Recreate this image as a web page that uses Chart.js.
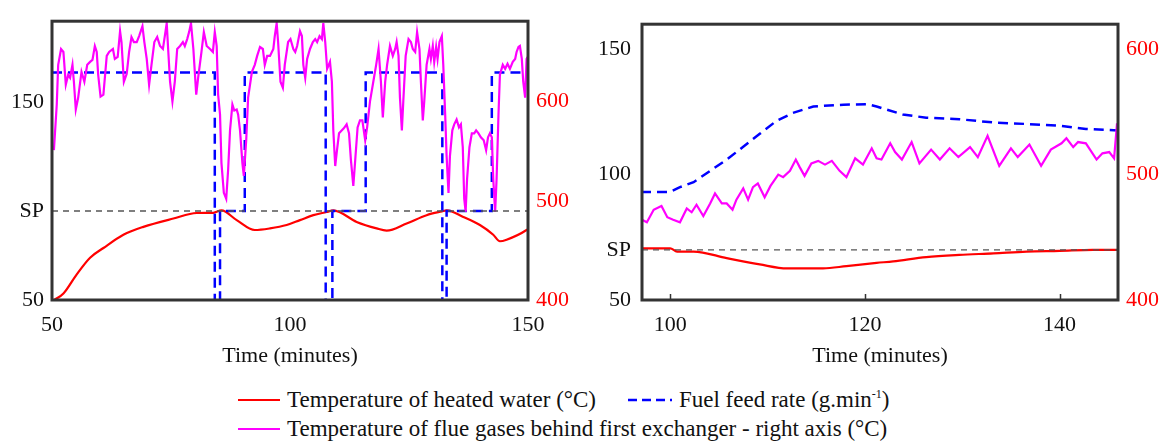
<!DOCTYPE html>
<html>
<head>
<meta charset="utf-8">
<script src="https://cdn.jsdelivr.net/npm/chart.js@4.4.1/dist/chart.umd.min.js"></script>
<style>
    body { margin: 0; background: #fff; width: 1162px; height: 442px; position: relative; overflow: hidden; font-family: 'Liberation Serif', 'Times New Roman', serif; }
    #leftBox { position: absolute; left: 0; top: 0; width: 580px; height: 370px; }
    #rightBox { position: absolute; left: 580px; top: 0; width: 582px; height: 370px; }
    .legendRow { position: absolute; left: 238px; height: 28px; display: flex; align-items: center; font-size: 23px; color: #111; white-space: nowrap; }
    .legendRow svg { margin-right: 7px; }
    sup { font-size: 12px; vertical-align: 9px; line-height: 0; }
</style>
</head>
<body>
<div id="leftBox"><canvas id="leftChart"></canvas></div>
<div id="rightBox"><canvas id="rightChart"></canvas></div>

<div class="legendRow" style="top: 386px;">
    <svg width="42" height="6"><line x1="0" y1="3" x2="42" y2="3" stroke="#ff0000" stroke-width="2.2"/></svg>
    <span>Temperature of heated water (°C)</span>
    <svg width="44" height="6" style="margin-left: 32px;"><line x1="0" y1="3" x2="44" y2="3" stroke="#0000ff" stroke-width="2.5" stroke-dasharray="9,5"/></svg>
    <span>Fuel feed rate (g.min<sup>-1</sup>)</span>
</div>
<div class="legendRow" style="top: 415px;">
    <svg width="42" height="6"><line x1="0" y1="3" x2="42" y2="3" stroke="#ff00ff" stroke-width="2.2"/></svg>
    <span>Temperature of flue gases behind first exchanger - right axis (°C)</span>
</div>

<script>
// ---- left panel data (time in minutes) ----
const leftXTicks = [50, 100, 150];
const leftYTicks = [50, 95, 150];
const leftY2Ticks = [400, 500, 600];
const leftSP = 95;

const leftWaterTime = [50.5, 52.4, 55.2, 58, 60.8, 65, 69.2, 75.5, 80.4, 83.9, 85.6, 88.8, 92.6, 95.8, 99.3, 102.1, 104.9, 107.7, 109.1, 114, 118.2, 120.3, 124.5, 128.7, 131.9, 132.9, 136.4, 139.9, 142.7, 144.1, 145.5, 149.7, 150];
const leftWaterTemp = [50, 53.3, 63, 71.4, 76.3, 83, 87, 91.2, 94, 94.1, 95.3, 90.4, 85.4, 86.2, 87.9, 90.4, 92.9, 94.5, 95.3, 89.5, 86.2, 85.1, 88.7, 92.9, 94.8, 95.3, 92, 87.9, 83, 79.7, 80.5, 85.4, 86];

const leftFeedTime = [50, 84.2, 84.2, 85.3, 85.3, 90.5, 90.5, 107.5, 107.5, 108.9, 108.9, 115.9, 115.9, 132, 132, 132.9, 132.9, 142.4, 142.4, 150];
const leftFeedRate = [165, 165, 0, 0, 95, 95, 165, 165, 0, 0, 95, 95, 165, 165, 0, 0, 95, 95, 165, 165];

const leftFlueTime = [50.4, 51, 51.3, 51.9, 52.4, 52.9, 53.4, 53.8, 54.3, 54.6, 55, 55.5, 56.2, 56.8, 57.4, 58, 58.5, 59, 59.4, 59.7,
    60.2, 60.8, 61.5, 62, 62.8, 63.2, 63.8, 64.3, 64.6, 65.1, 65.7, 66.2, 66.7, 67.2, 67.8, 68.3, 69, 69.4, 69.9,
    70.4, 70.9, 71.5, 72.1, 72.7, 73.3, 73.7, 74.1, 74.4, 74.8, 75.3, 75.8, 76.3, 76.9, 77.5, 77.9, 78.4, 78.8, 79.2, 79.7,
    80.3, 80.7, 81.4, 81.9, 82.5, 83.2, 83.8, 84.2, 84.6, 84.9, 85.3, 85.6, 86.1, 86.6, 87, 87.4, 87.9, 88.3, 88.8, 89.1, 89.5,
    90, 90.3, 90.8, 91.2, 92, 92.6, 93.1, 93.7, 94.3, 94.7, 95.2, 95.8, 96.5, 96.8, 97.2, 97.5, 98, 98.5, 98.9, 99.6,
    100.1, 100.7, 101.1, 101.5, 102.1, 102.5, 102.8, 103.2, 103.6, 104.2, 104.8, 105.3, 105.7, 106.2, 106.7, 107, 107.4, 107.8, 108.4, 108.8, 109.1, 109.5, 109.8,
    110.3, 110.9, 111.3, 111.9, 112.4, 112.8, 113.3, 113.7, 114.2, 114.7, 115.2, 115.8, 116.2, 116.8, 117.5, 118.1, 118.6, 119.1, 119.5,
    120, 120.4, 121, 121.6, 122.1, 122.4, 122.8, 123.1, 123.5, 123.8, 124.3, 124.9, 125.4, 125.8, 126.3, 126.7, 127.2, 127.5, 127.9, 128.2, 128.7, 129.3, 129.6,
    130, 130.3, 130.7, 131, 131.4, 131.9, 132.2, 132.6, 132.9, 133.3, 133.6, 134.1, 134.5, 135, 135.5, 135.9, 136.3, 136.6, 136.9, 137.2, 137.7, 138.2, 138.7, 139.1, 139.6,
    140.1, 140.7, 141.2, 141.6, 142, 142.4, 142.7, 143.1, 143.4, 143.8, 144.1, 144.7, 145.2, 145.7, 146.2, 146.8, 147.3, 147.6, 148, 148.3, 148.7, 149, 149.4, 149.7, 149.9];
const leftFlueTemp = [551, 597, 637, 653, 650, 617, 627, 624, 637, 620, 592, 604, 630, 620, 637, 640, 642, 656, 650, 627,
    605, 607, 646, 650, 653, 643, 645, 671, 660, 620, 628, 650, 665, 660, 660, 666, 676, 660, 643,
    617, 637, 660, 665, 656, 653, 666, 679, 653, 620, 600, 620, 653, 656, 660, 656, 663, 670, 679, 653,
    607, 624, 650, 670, 656, 653, 650, 670, 656, 607, 587, 538, 508, 502, 531, 571, 597, 591, 592, 587, 571,
    538, 525, 561, 604, 630, 637, 646, 655, 653, 637, 646, 646, 653, 666, 679, 660, 620, 614, 637, 660,
    663, 653, 650, 656, 671, 666, 637, 624, 643, 653, 660, 663, 660, 666, 663, 679, 660, 633, 640, 620, 571, 535, 548,
    568, 571, 573, 577, 568, 541, 515, 541, 574, 581, 581, 561, 574, 600, 620, 637, 653, 620, 584,
    620, 637, 656, 646, 653, 660, 646, 604, 571, 600, 646, 663, 660, 653, 650, 670, 653, 620, 581, 600, 637, 653, 643,
    656, 640, 655, 643, 660, 666, 637, 587, 545, 508, 545, 571, 577, 582, 574, 577, 554, 502, 489, 522, 554, 568, 568, 571, 568,
    564, 561, 551, 564, 568, 564, 522, 489, 522, 587, 627, 637, 633, 638, 633, 640, 643, 650, 655, 656, 643, 620, 604, 643, 645];

// ---- right panel data ----
const rightXTicks = [100, 120, 140];
const rightYTicks = [50, 70, 100, 150];
const rightY2Ticks = [400, 500, 600];
const rightSP = 70;

const rightWaterTime = [97, 100, 100.7, 102.4, 105.8, 109.2, 112, 115.7, 118.1, 121.2, 122.9, 126.3, 129.7, 133.2, 136.6, 140, 143.4, 146];
const rightWaterTemp = [70.6, 70.6, 69.3, 69.3, 66.7, 64.2, 62.6, 62.6, 63.5, 64.8, 65.4, 67.1, 68, 68.6, 69.3, 69.6, 70, 70];

const rightFeedTime = [97, 100, 101, 102.4, 104.1, 105.8, 107.5, 109.2, 110.9, 112.6, 114.7, 117.8, 120.2, 121.2, 122.2, 123.9, 126.3, 129.7, 133.2, 136.6, 140, 142.7, 146];
const rightFeedRate = [93.1, 93.1, 95, 97, 101.5, 106, 111.1, 116.3, 121.4, 124.6, 127.2, 127.9, 128.1, 127.2, 126, 124, 122.7, 122.1, 120.8, 120.2, 119.5, 118.2, 117.6];

const rightFlueTime = [97.1, 97.6, 98.3, 99.1, 99.7, 100.3, 101, 101.7, 102.2, 102.7, 103.4, 104.1, 104.6, 105.3, 105.8, 106.4, 106.8, 107.5, 108, 108.5, 109, 109.7,
    110.3, 111.1, 111.6, 112.3, 112.9, 113.3, 113.8, 114.5, 115.2, 115.9, 116.6, 117.4, 118.1, 119, 119.8, 120.7, 121.2, 121.7, 122.6, 123.1, 123.8, 124.8, 125.6, 126.8, 127.7, 128.7, 129.6,
    130.8, 131.6, 132.6, 133.8, 135, 135.7, 136.9, 138.1, 139.1, 140.2, 140.7, 141.4, 141.9, 142.7, 143.8, 144.4, 145.1, 145.6, 145.9];
const rightFlueTemp = [464, 462, 472, 475, 466, 464, 462, 473, 470, 476, 467, 477, 485, 477, 477, 472, 480, 489, 480, 490, 493, 482,
    491, 500, 498, 503, 512, 506, 499, 509, 511, 508, 511, 503, 498, 513, 508, 521, 513, 512, 525, 518, 512, 526, 509, 520, 512, 521, 514,
    522, 514, 531, 507, 521, 514, 524, 507, 520, 525, 529, 522, 526, 525, 512, 517, 518, 513, 541];

const serif = "'Liberation Serif', 'Times New Roman', serif";

function pts(xs, ys) {
    return xs.map((x, i) => ({ x: x, y: ys[i] }));
}

// dark frame around the plot area, drawn on top of the lines
const framePlugin = {
    id: 'frame',
    afterDatasetsDraw(chart) {
        const a = chart.chartArea;
        const ctx = chart.ctx;
        ctx.save();
        ctx.strokeStyle = '#333';
        ctx.lineWidth = 3;
        ctx.strokeRect(a.left, a.top, a.right - a.left, a.bottom - a.top);
        ctx.restore();
    }
};

// small inward tick marks on the bottom axis (right panel only)
const innerTicksPlugin = {
    id: 'innerTicks',
    afterDatasetsDraw(chart, args, opts) {
        if (!opts.show) return;
        const xs = chart.scales.x;
        const ctx = chart.ctx;
        ctx.save();
        ctx.strokeStyle = '#333';
        ctx.lineWidth = 1.5;
        xs.ticks.forEach(t => {
            const px = Math.round(xs.getPixelForValue(t.value)) + 0.5;
            ctx.beginPath();
            ctx.moveTo(px, chart.chartArea.bottom);
            ctx.lineTo(px, chart.chartArea.bottom - 6);
            ctx.stroke();
        });
        ctx.restore();
    }
};

function buildChart(id, cfg) {
    const lineBase = { pointRadius: 0, tension: 0, fill: false };
    return new Chart(document.getElementById(id), {
        type: 'line',
        data: {
            datasets: [
                { ...lineBase, data: pts([cfg.xMin, cfg.xMax], [cfg.sp, cfg.sp]), borderColor: '#555', borderWidth: 1.4, borderDash: [6, 5], yAxisID: 'y' },
                { ...lineBase, data: pts(cfg.flueTime, cfg.flueTemp), borderColor: '#ff00ff', borderWidth: 2.2, yAxisID: 'y2' },
                { ...lineBase, data: pts(cfg.feedTime, cfg.feedRate), borderColor: '#0000ff', borderWidth: 2.5, borderDash: [10, 6], yAxisID: 'y' },
                { ...lineBase, data: pts(cfg.waterTime, cfg.waterTemp), borderColor: '#ff0000', borderWidth: 2.2, cubicInterpolationMode: 'monotone', yAxisID: 'y' }
            ]
        },
        options: {
            responsive: false,
            animation: false,
            events: [],
            layout: { padding: { top: 15, left: 0, right: 0, bottom: 0 } },
            plugins: { legend: { display: false }, tooltip: { enabled: false }, innerTicks: { show: cfg.innerTicks } },
            scales: {
                x: {
                    type: 'linear', min: cfg.xMin, max: cfg.xMax,
                    afterBuildTicks: s => { s.ticks = cfg.xTicks.map(v => ({ value: v })); },
                    afterFit: s => { s.height = 70; },
                    grid: { display: false, drawTicks: false },
                    border: { display: false },
                    ticks: { color: '#111', font: { family: serif, size: 22 }, padding: 12, maxRotation: 0 },
                    title: { display: true, text: 'Time (minutes)', color: '#111', font: { family: serif, size: 22 }, padding: { top: 0, bottom: 1 } }
                },
                y: {
                    position: 'left', min: cfg.yMin, max: cfg.yMax,
                    afterBuildTicks: s => { s.ticks = cfg.yTicks.map(v => ({ value: v })); },
                    afterFit: s => { s.width = cfg.leftW; },
                    grid: { display: false, drawTicks: false },
                    border: { display: false },
                    ticks: { color: '#111', font: { family: serif, size: 22 }, padding: cfg.leftPad, callback: v => v === cfg.sp ? 'SP' : v }
                },
                y2: {
                    position: 'right', min: cfg.y2Min, max: cfg.y2Max,
                    afterBuildTicks: s => { s.ticks = cfg.y2Ticks.map(v => ({ value: v })); },
                    afterFit: s => { s.width = cfg.rightW; },
                    grid: { display: false, drawTicks: false },
                    border: { display: false },
                    ticks: { color: '#ff0000', font: { family: serif, size: 22 }, padding: 8 }
                }
            }
        },
        plugins: [framePlugin, innerTicksPlugin]
    });
}

function sizeCanvas(id, w, h) {
    const c = document.getElementById(id);
    c.width = w; c.height = h;
    c.style.width = w + 'px'; c.style.height = h + 'px';
}
sizeCanvas('leftChart', 580, 370);
sizeCanvas('rightChart', 582, 370);

buildChart('leftChart', {
    xMin: 50, xMax: 150, yMin: 50, yMax: 191, y2Min: 400, y2Max: 681,
    xTicks: leftXTicks, yTicks: leftYTicks, y2Ticks: leftY2Ticks, sp: leftSP,
    waterTime: leftWaterTime, waterTemp: leftWaterTemp,
    feedTime: leftFeedTime, feedRate: leftFeedRate,
    flueTime: leftFlueTime, flueTemp: leftFlueTemp,
    leftW: 52, rightW: 52, leftPad: 8, innerTicks: false
});

buildChart('rightChart', {
    xMin: 97.1, xMax: 146, yMin: 50, yMax: 160, y2Min: 400, y2Max: 620,
    xTicks: rightXTicks, yTicks: rightYTicks, y2Ticks: rightY2Ticks, sp: rightSP,
    waterTime: rightWaterTime, waterTemp: rightWaterTemp,
    feedTime: rightFeedTime, feedRate: rightFeedRate,
    flueTime: rightFlueTime, flueTemp: rightFlueTemp,
    leftW: 62, rightW: 44, leftPad: 11, innerTicks: true
});
</script>
</body>
</html>
